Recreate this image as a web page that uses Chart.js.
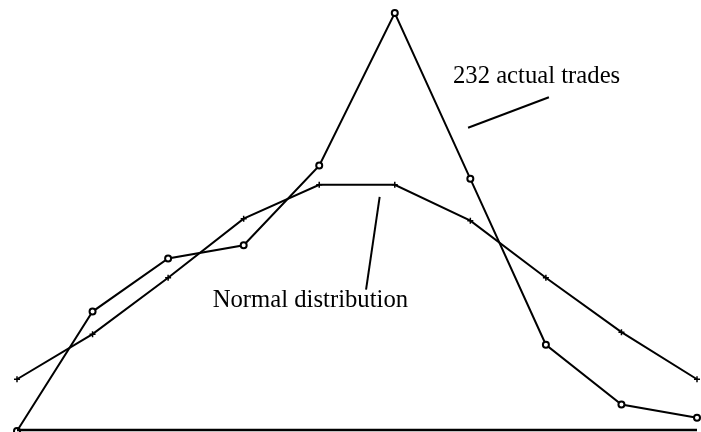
<!DOCTYPE html>
<html>
<head>
<meta charset="utf-8">
<script src="https://cdn.jsdelivr.net/npm/chart.js@4/dist/chart.umd.min.js"></script>
<style>
  html, body { margin: 0; padding: 0; background: #fff; }
  #wrap { width: 701px; height: 432px; }
  canvas { display: block; }
</style>
</head>
<body>
<div id="wrap"><canvas id="chart" width="701" height="432"></canvas></div>
<script>
// trade-size buckets, 10 of them
const buckets = [0, 1, 2, 3, 4, 5, 6, 7, 8, 9];
// number of trades in each bucket (sums to 232)
const actualTrades = [0, 18, 26, 28, 40, 63, 38, 13, 4, 2];
const normalDist = [7.8, 14.6, 23.1, 32.0, 37.1, 37.1, 31.7, 23.1, 14.9, 7.8];
const yMax = 63;

// labels with leader lines, in data units
const notes = [
  { text: '232 actual trades', tx: 5.77, ty: 52.4, from: [5.97, 45.7], to: [7.04, 50.3] },
  { text: 'Normal distribution', tx: 2.59, ty: 18.7, from: [4.62, 21.3], to: [4.80, 35.3] },
];

const annotatePlugin = {
  id: 'annotate',
  afterDatasetsDraw(chart) {
    const ctx = chart.ctx;
    const xs = chart.scales.x;
    const ys = chart.scales.y;
    ctx.save();
    ctx.strokeStyle = '#000';
    // baseline, a touch above the canvas edge so it isn't cut off
    const by = ys.getPixelForValue(0) - 1;
    ctx.lineWidth = 2.5;
    ctx.beginPath();
    ctx.moveTo(xs.getPixelForValue(buckets[0]), by);
    ctx.lineTo(xs.getPixelForValue(buckets[buckets.length - 1]), by);
    ctx.stroke();

    ctx.lineWidth = 2;
    ctx.fillStyle = '#000';
    ctx.font = '24.7px "Liberation Serif", "Times New Roman", serif';
    ctx.textBaseline = 'alphabetic';
    notes.forEach(n => {
      ctx.beginPath();
      ctx.moveTo(xs.getPixelForValue(n.from[0]), ys.getPixelForValue(n.from[1]));
      ctx.lineTo(xs.getPixelForValue(n.to[0]), ys.getPixelForValue(n.to[1]));
      ctx.stroke();
      ctx.fillText(n.text, xs.getPixelForValue(n.tx), ys.getPixelForValue(n.ty));
    });
    ctx.restore();
  }
};

const ctx = document.getElementById('chart');
new Chart(ctx, {
  type: 'line',
  data: {
    datasets: [
      {
        label: 'Actual trades',
        data: buckets.map((b, i) => ({ x: b, y: actualTrades[i] })),
        borderColor: '#000',
        borderWidth: 2,
        pointStyle: 'circle',
        pointRadius: 3,
        pointBorderWidth: 2,
        pointBackgroundColor: '#fff',
        pointBorderColor: '#000',
        tension: 0,
      },
      {
        label: 'Normal distribution',
        data: buckets.map((b, i) => ({ x: b, y: normalDist[i] })),
        borderColor: '#000',
        borderWidth: 2,
        pointStyle: 'cross',
        pointRadius: 3,
        pointBorderWidth: 1.5,
        pointBorderColor: '#000',
        tension: 0,
      },
    ],
  },
  options: {
    responsive: false,
    animation: false,
    clip: false,
    layout: { autoPadding: false, padding: { left: 17, right: 4, top: 13, bottom: 1 } },
    plugins: {
      legend: { display: false },
      tooltip: { enabled: false },
    },
    scales: {
      x: { type: 'linear', min: 0, max: 9, display: false },
      y: { min: 0, max: yMax, display: false },
    },
  },
  plugins: [annotatePlugin],
});
</script>
</body>
</html>
